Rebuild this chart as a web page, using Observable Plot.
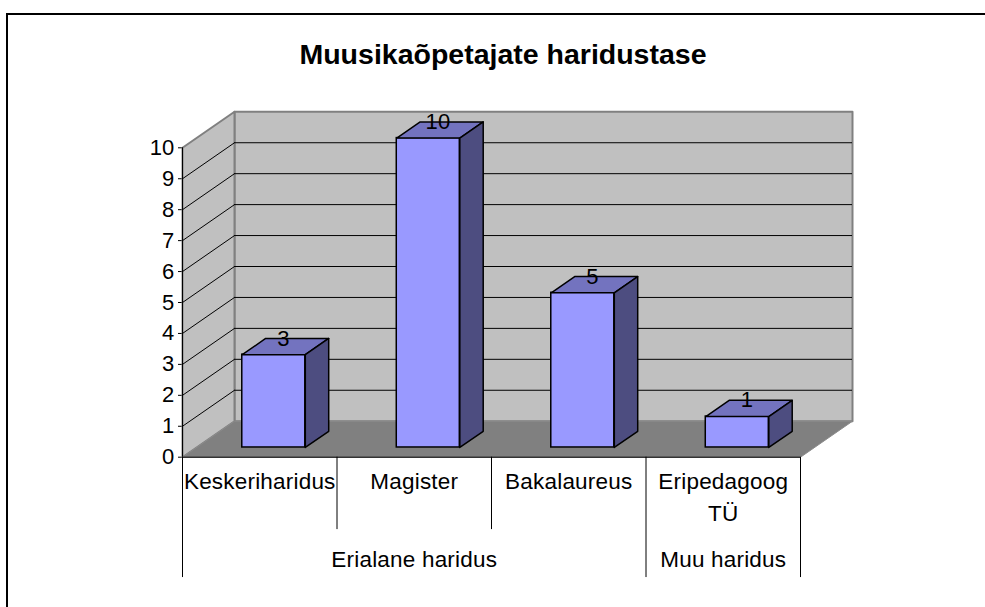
<!DOCTYPE html>
<html>
<head>
<meta charset="utf-8">
<script src="https://cdn.jsdelivr.net/npm/d3@7"></script>
<script src="https://cdn.jsdelivr.net/npm/@observablehq/plot@0.6"></script>
<style>
  html, body { margin: 0; padding: 0; background: #fff; }
  #wrap { position: relative; width: 985px; height: 607px; overflow: hidden; font-family: "Liberation Sans", Arial, sans-serif; }
  #frame { position: absolute; left: 6px; top: 13px; width: 1000px; height: 620px; border-left: 2px solid #000; border-top: 2px solid #000; }
  #title { position: absolute; left: 0; width: 1006px; top: 38px; text-align: center; font-weight: bold; font-size: 28.5px; color: #000; }
  #chart { position: absolute; left: 0; top: 0; }
  #chart svg text { letter-spacing: 0.2px; }
</style>
</head>
<body>
<div id="wrap">
  <div id="frame"></div>
  <div id="chart"></div>
  <div id="title"></div>
</div>
<script>
// ---- data ----
const title = "Muusikaõpetajate haridustase";
const categories = ["Keskeriharidus", "Magister", "Bakalaureus", "Eripedagoog\nTÜ"];
const values = [3, 10, 5, 1];
const groups = ["Erialane haridus", "Erialane haridus", "Erialane haridus", "Muu haridus"];
const yTicks = [0, 1, 2, 3, 4, 5, 6, 7, 8, 9, 10];

// ---- layout ----
const W = 985, H = 607;
const mL = 182, mR = 185, mT = 147.3, mB = 150.3;
const yMax = 10;
const catPx = (W - mL - mR) / categories.length;
const unitPx = (H - mT - mB) / yMax;
const DX = 52 / catPx;      // depth shift in x units
const DY = 36 / unitPx;     // depth shift in y units
const d0 = 0.27, d1 = 0.72; // bar depth span
const halfW = 0.204;        // half bar width (category units)
const P = (x, y, d) => ({x: x + d * DX, y: y + d * DY});
const n = categories.length;

function poly(id, pts) {
  return [...pts, pts[0]].map(p => ({id, ...p}));
}

const backWall = poly("back", [P(0, 0, 1), P(n, 0, 1), P(n, yMax, 1), P(0, yMax, 1)]);
const sideWall = poly("side", [P(0, 0, 0), P(0, yMax, 0), P(0, yMax, 1), P(0, 0, 1)]);
const floor = poly("floor", [P(0, 0, 0), P(n, 0, 0), P(n, 0, 1), P(0, 0, 1)]);
const grid = yTicks.filter(v => v > 0 && v < yMax);

const bars = values.map((v, i) => ({i, v, xl: i + 0.5 - halfW, xr: i + 0.5 + halfW}));
const tops = bars.flatMap(b => poly("t" + b.i, [P(b.xl, b.v, d0), P(b.xr, b.v, d0), P(b.xr, b.v, d1), P(b.xl, b.v, d1)]));
const sides = bars.flatMap(b => poly("s" + b.i, [P(b.xr, 0, d0), P(b.xr, b.v, d0), P(b.xr, b.v, d1), P(b.xr, 0, d1)]));

// category separators & group spans
const groupSpans = [];
groups.forEach((g, i) => {
  const last = groupSpans[groupSpans.length - 1];
  if (last && last.g === g) last.end = i + 1; else groupSpans.push({g, start: i, end: i + 1});
});
const groupBounds = new Set(groupSpans.flatMap(s => [s.start, s.end]));
const shortSep = -2.34, longSep = -3.89;
const seps = d3.range(n + 1).map(k => ({k, y2: groupBounds.has(k) ? longSep : shortSep}));

const font = "'Liberation Sans', Arial, sans-serif";

const chart = Plot.plot({
  width: W, height: H,
  marginLeft: mL, marginRight: mR, marginTop: mT, marginBottom: mB,
  x: {domain: [0, n], axis: null},
  y: {domain: [0, yMax], ticks: yTicks.length - 1, tickSize: 4, tickPadding: 4, label: null, tickFormat: d3.format("d")},
  style: {fontFamily: font, fontSize: "22px", color: "#000", background: "transparent", overflow: "visible"},
  marks: [
    Plot.line(backWall, {x: "x", y: "y", z: "id", fill: "#C0C0C0", stroke: "#808080", strokeWidth: 2}),
    Plot.line(sideWall, {x: "x", y: "y", z: "id", fill: "#C0C0C0", stroke: "#808080", strokeWidth: 2}),
    Plot.ruleY(grid, {y: v => v + DY, x1: DX, x2: n + DX, stroke: "#000", strokeWidth: 1}),
    Plot.link(grid, {x1: 0, y1: v => v, x2: DX, y2: v => v + DY, stroke: "#000", strokeWidth: 1}),
    Plot.line(floor, {x: "x", y: "y", z: "id", fill: "#808080", stroke: "#8c8c8c", strokeWidth: 1}),
    Plot.ruleX([0], {y1: 0, y2: yMax, stroke: "#000", strokeWidth: 1}),
    Plot.ruleY([0], {x1: 0, x2: n, stroke: "#000", strokeWidth: 1}),
    Plot.ruleX(seps, {x: "k", y1: 0, y2: "y2", stroke: "#000", strokeWidth: 1}),
    Plot.rect(bars, {x1: b => b.xl + d0 * DX, x2: b => b.xr + d0 * DX, y1: d0 * DY, y2: b => b.v + d0 * DY, fill: "#9999FF", stroke: "#000", strokeWidth: 1.5}),
    Plot.line(tops, {x: "x", y: "y", z: "id", fill: "#7373BF", stroke: "#000", strokeWidth: 1.5}),
    Plot.line(sides, {x: "x", y: "y", z: "id", fill: "#4D4D80", stroke: "#000", strokeWidth: 1.5}),
    Plot.text(bars, {x: b => b.i + 0.5 + (d0 + d1) / 2 * DX, y: b => b.v + (d0 + d1) / 2 * DY, text: b => String(b.v), fontSize: 22, fill: "#000", dy: -8, dx: -2}),
    Plot.text(categories, {x: (c, i) => i + 0.5, y: 0, text: c => c, lineAnchor: "top", dy: 8.5, fontSize: 22.5, lineHeight: 1.45, fill: "#000"}),
    Plot.text(groupSpans, {x: s => (s.start + s.end) / 2, y: 0, text: "g", lineAnchor: "top", dy: 93.5, fontSize: 22.5, fill: "#000"})
  ]
});
document.getElementById("chart").appendChild(chart);
document.getElementById("title").textContent = title;
</script>
</body>
</html>
